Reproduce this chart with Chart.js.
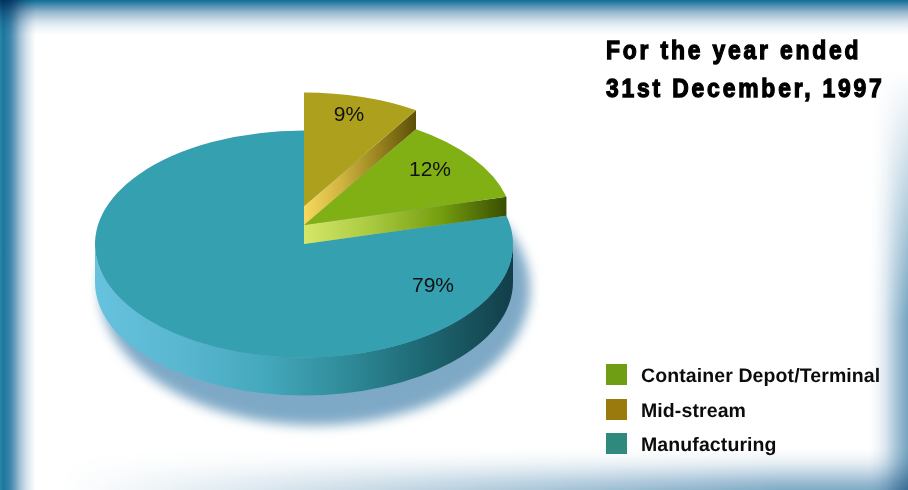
<!DOCTYPE html>
<html>
<head>
<meta charset="utf-8">
<title>For the year ended 31st December, 1997</title>
<script src="https://cdn.jsdelivr.net/npm/chart.js@4"></script>
<style>
  html, body { margin: 0; padding: 0; }
  #page {
    position: relative;
    width: 908px;
    height: 490px;
    overflow: hidden;
    background-color: #fff;
    background-image:
      linear-gradient(to right, #2a8aa8 0, #1a76a0 3px, #3a85aa 10px, #6d9fbe 15px, #a3c2d6 20px, #d0e0ea 26px, #f0f5f8 32px, rgba(255,255,255,0) 36px),
      linear-gradient(to bottom, #0f6d95 0, #5f97b6 7px, #9dbcd1 13px, #d7e4ec 22px, #eef4f7 28px, rgba(255,255,255,0) 35px);
    background-blend-mode: multiply;
  }
  /* the frame on these two sides fades out towards the top left */
  #edgeRight {
    position: absolute; right: 0; top: 0; width: 38px; height: 490px;
    mix-blend-mode: multiply;
    background: linear-gradient(to left, #76a5c1 0, #8cb4cc 6px, #b0cbdc 14px, #d8e5ee 22px, #f2f6f9 30px, #fff 38px);
    -webkit-mask-image: linear-gradient(to bottom, transparent 70px, #000 320px);
    mask-image: linear-gradient(to bottom, transparent 70px, #000 320px);
  }
  #edgeBottom {
    position: absolute; left: 0; bottom: 0; width: 908px; height: 42px;
    mix-blend-mode: multiply;
    background: linear-gradient(to top, #7fabc6 0, #9bbcd2 8px, #bdd3e2 16px, #e2ecf2 26px, #f5f8fa 34px, #fff 42px);
    -webkit-mask-image: linear-gradient(to right, transparent 60px, #000 780px);
    mask-image: linear-gradient(to right, transparent 60px, #000 780px);
  }
  canvas { position: absolute; left: 0; top: 0; }
  #heading {
    position: absolute;
    left: 606px;
    top: 32px;
    margin: 0;
    font: bold 26px/37.5px "Liberation Sans", sans-serif;
    letter-spacing: 3.2px;
    -webkit-text-stroke: 1.3px #000;
    color: #000;
    white-space: nowrap;
    transform: scaleX(0.88);
    transform-origin: 0 0;
  }
  #legend {
    position: absolute;
    left: 606px;
    top: 364px;
    margin: 0;
    padding: 0;
    list-style: none;
    font: bold 19.5px "Liberation Sans", sans-serif;
    letter-spacing: 0.1px;
    text-rendering: geometricPrecision;
    color: #0c0c0c;
  }
  #legend li { display: flex; align-items: center; height: 21px; margin-bottom: 13.5px; white-space: nowrap; }
  #legend i { display: block; width: 21px; height: 21px; margin-right: 14px; }
  #legend span { position: relative; top: 2px; }
</style>
</head>
<body>
<div id="page">
  <div id="edgeRight"></div>
  <div id="edgeBottom"></div>
  <canvas id="grafica" width="908" height="490"></canvas>
  <h1 id="heading">For the year ended<br>31st December, 1997</h1>
  <ul id="legend"></ul>
</div>
<script>
// Clockwise from twelve o'clock
const categories = ["Mid-stream", "Container Depot/Terminal", "Manufacturing"];
const shares = [9, 12, 79];
const legendOrder = ["Container Depot/Terminal", "Mid-stream", "Manufacturing"];

const topColors = ["#ada01c", "#80b014", "#35a0b0"];
const legendColors = ["#9a7a0c", "#6f9e14", "#2d8a7c"];

const squash = 0.543; // tilt of the pie, height over width
const sliceLift = [38, 19, 0]; // how far each slice is raised
const sliceDepth = [19, 19, 38]; // thickness of each slice
const labelOffset = [[45, -91], [126, -55], [129, 42]];

// side colours, from left to right
const wallStops = [
  ["#f7d95e", "#d0b440", "#98831e", "#5c5008"],
  ["#d6e768", "#a9c940", "#76a010", "#3a4e00"],
  ["#66c2de", "#5ab7d0", "#45a9bd", "#2f8b99", "#1c6570", "#123e48"],
];

function raiseAndTilt(ctx, arc, lift) {
  ctx.translate(0, arc.y - lift);
  ctx.scale(1, squash);
  ctx.translate(0, -arc.y);
}

function wallGradient(ctx, x0, x1, stops) {
  const g = ctx.createLinearGradient(x0, 0, x1, 0);
  stops.forEach((c, i) => g.addColorStop(i / (stops.length - 1), c));
  return g;
}

// Blurred ellipse under the pie
function drawShadow(ctx, arc) {
  ctx.save();
  ctx.filter = "blur(6px)";
  ctx.fillStyle = "#7ea9c6";
  ctx.beginPath();
  ctx.ellipse(arc.x + 11, arc.y + 45, arc.outerRadius + 6, arc.outerRadius * squash + 23, 0, 0, Math.PI * 2);
  ctx.fill();
  ctx.restore();
}

// Rim along the front of the pie, only the part that faces the viewer
function drawRim(ctx, arc, i) {
  const R = arc.outerRadius;
  const ry = R * squash;
  const top = arc.y - sliceLift[i];
  const a0 = Math.max(arc.startAngle, 0);
  const a1 = Math.min(arc.endAngle, Math.PI);
  if (a1 <= a0) return;
  ctx.save();
  ctx.fillStyle = wallGradient(ctx, arc.x - R, arc.x + R, wallStops[i]);
  ctx.beginPath();
  ctx.ellipse(arc.x, top, R, ry, 0, a0, a1);
  ctx.ellipse(arc.x, top + sliceDepth[i], R, ry, 0, a1, a0, true);
  ctx.closePath();
  ctx.fill();
  ctx.restore();
}

// Cut face of a raised slice, along its clockwise edge
function drawCutFace(ctx, arc, i) {
  const R = arc.outerRadius;
  const top = arc.y - sliceLift[i];
  const ex = arc.x + R * Math.cos(arc.endAngle);
  const ey = top + R * squash * Math.sin(arc.endAngle);
  ctx.save();
  ctx.fillStyle = wallGradient(ctx, arc.x, ex, wallStops[i]);
  ctx.beginPath();
  ctx.moveTo(arc.x, top);
  ctx.lineTo(ex, ey);
  ctx.lineTo(ex, ey + sliceDepth[i]);
  ctx.lineTo(arc.x, top + sliceDepth[i]);
  ctx.closePath();
  ctx.fill();
  ctx.restore();
}

const tiltedPie = {
  id: "tiltedPie",
  beforeDatasetsDraw(chart) {
    const ctx = chart.ctx;
    const arcs = chart.getDatasetMeta(0).data;
    drawShadow(ctx, arcs[2]);
    // bottom slice first, the raised ones sit on top of it
    [2, 1, 0].forEach((i) => {
      const arc = arcs[i];
      if (sliceLift[i] === 0) drawRim(ctx, arc, i);
      else drawCutFace(ctx, arc, i);
      ctx.save();
      raiseAndTilt(ctx, arc, sliceLift[i]);
      arc.draw(ctx);
      ctx.restore();
    });
    return false; // already drawn, skip the flat pie
  },
  afterDraw(chart) {
    const ctx = chart.ctx;
    const arcs = chart.getDatasetMeta(0).data;
    ctx.save();
    ctx.font = '21px "Liberation Sans", sans-serif';
    ctx.fillStyle = "#111";
    ctx.textAlign = "center";
    ctx.textBaseline = "middle";
    shares.forEach((v, i) => {
      const arc = arcs[i];
      ctx.fillText(v + "%", arc.x + labelOffset[i][0], arc.y - sliceLift[i] + labelOffset[i][1]);
    });
    ctx.restore();
  },
};

// Legend as HTML, built from the chart's own labels
const htmlLegend = {
  id: "htmlLegend",
  afterUpdate(chart) {
    const ul = document.getElementById("legend");
    ul.innerHTML = "";
    const items = chart.options.plugins.legend.labels.generateLabels(chart);
    legendOrder.forEach((name) => {
      const item = items.find((it) => it.text === name);
      const li = document.createElement("li");
      const box = document.createElement("i");
      box.style.background = legendColors[item.index];
      const text = document.createElement("span");
      text.textContent = item.text;
      li.appendChild(box);
      li.appendChild(text);
      ul.appendChild(li);
    });
  },
};

document.addEventListener("DOMContentLoaded", () => {
  new Chart(document.getElementById("grafica"), {
    type: "pie",
    data: {
      labels: categories,
      datasets: [{ data: shares, backgroundColor: topColors, borderWidth: 0 }],
    },
    options: {
      responsive: false,
      animation: false,
      layout: { padding: { left: 95, right: 395, top: 35, bottom: 37 } },
      plugins: {
        legend: { display: false },
        tooltip: { enabled: false },
      },
    },
    plugins: [tiltedPie, htmlLegend],
  });
});
</script>
</body>
</html>
